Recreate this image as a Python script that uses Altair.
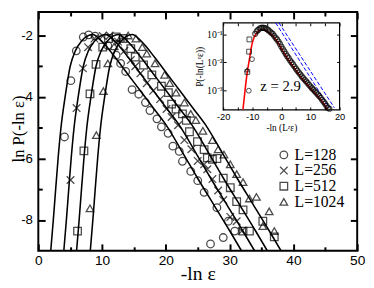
import altair as alt
import pandas as pd

# ---------------- main panel data ----------------
series = ["L=128", "L=256", "L=512", "L=1024"]
shapes = ["circle", "M-1,-1L1,1M-1,1L1,-1", "square", "triangle-up"]

# fitted curves (ln P values shared, -ln eps positions per size)
fit_y = [-9.0, -8.0, -7.0, -6.0, -5.0, -4.0, -3.0, -2.5, -2.2, -2.03, -1.97,
         -2.2, -2.7, -3.25, -3.8, -4.35, -4.9, -5.8, -6.65, -7.5, -8.35, -9.0]
fit_x128 = [1.95, 2.35, 2.72, 3.1, 3.55, 4.2, 5.0, 5.8, 6.7, 7.6, 8.5,
            10.0, 12.0, 14.0, 16.0, 18.0, 20.0, 22.6, 25.0, 27.5, 30.0, 31.85]
fit_x256 = [4.0, 4.4, 4.77, 5.15, 5.6, 6.25, 7.05, 7.85, 8.75, 9.65, 10.55,
            12.05, 14.05, 16.05, 18.05, 20.05, 22.05, 24.65, 27.05, 29.55, 32.05, 33.9]
fit_x512 = [6.0, 6.4, 6.77, 7.15, 7.6, 8.25, 9.05, 9.85, 10.75, 11.65, 12.55,
            14.05, 16.05, 18.05, 20.05, 22.05, 24.05, 26.65, 29.05, 31.55, 34.05, 35.9]
fit_x1024 = [8.15, 8.55, 8.92, 9.3, 9.75, 10.4, 11.2, 12.0, 12.9, 13.8, 14.7,
             16.2, 18.2, 20.2, 22.2, 24.2, 26.2, 28.8, 31.2, 33.7, 36.2, 38.05]

# simulation points
x128 = [4.1, 5.1, 5.95, 7.05, 7.9, 8.9, 10.9, 12.2, 12.9, 13.7, 14.7, 15.75, 16.8, 17.5,
        18.6, 19.3, 20.35, 21.1, 22.1, 22.6, 23.9, 25.0, 26.0, 28.0, 29.8, 30.8, 29.0, 27.0]
y128 = [-5.3, -3.47, -2.5, -2.05, -1.98, -2.02, -2.33, -2.64, -2.91, -3.17, -3.76, -3.91, -4.18, -4.44,
        -4.71, -4.97, -5.18, -5.6, -5.77, -6.09, -6.42, -6.72, -7.1, -7.6, -8.04, -8.36, -8.57, -8.78]

x256 = [5.05, 6.0, 7.0, 7.8, 8.8, 10.1, 11.2, 12.5, 13.5, 14.5, 15.2, 16.0, 17.0, 18.0, 19.1,
        20.1, 20.9, 21.9, 22.9, 24.0, 25.0, 26.0, 26.5, 27.3, 28.2, 29.0, 30.1, 31.1, 31.9]
y256 = [-6.7, -4.36, -3.07, -2.38, -2.1, -2.02, -2.0, -2.2, -2.5, -2.8, -3.0, -3.23, -3.55, -3.8, -4.07,
        -4.39, -4.65, -4.92, -5.4, -5.7, -6.08, -6.19, -6.35, -6.67, -7.04, -7.35, -7.9, -8.04, -8.36]

x512 = [6.15, 7.15, 8.1, 9.05, 10.1, 11.0, 12.2, 13.3, 14.5, 15.2, 16.5, 17.8, 19.3, 20.4, 20.9, 21.6,
        22.6, 23.2, 23.7, 24.95, 26.0, 26.5, 27.3, 28.0, 29.0, 30.1, 31.1, 32.1, 32.1, 33.1, 35.2, 37.0]
y512 = [-8.36, -5.75, -3.9, -2.94, -2.38, -2.1, -2.05, -2.1, -2.43, -2.7, -2.96, -3.28, -3.65, -3.86, -4.23, -4.39,
        -4.55, -4.76, -5.13, -5.45, -5.71, -5.98, -6.03, -6.0, -6.64, -6.95, -7.4, -7.67, -8.36, -8.36, -8.04, -8.55]

x1024 = [8.1, 9.1, 10.2, 10.9, 11.9, 12.9, 14.1, 15.3, 16.3, 17.0, 18.3, 19.8, 20.6, 21.6, 22.9,
         23.9, 24.7, 25.8, 27.3, 28.2, 29.1, 30.1, 31.1, 32.1, 33.1, 34.2, 35.2, 36.2, 37.0]
y1024 = [-7.62, -5.24, -3.81, -2.91, -2.35, -2.08, -2.0, -2.1, -2.38, -2.59, -2.91, -3.28, -3.55, -3.86, -4.18,
         -4.55, -4.75, -5.1, -5.4, -5.7, -5.87, -6.19, -6.51, -6.77, -7.3, -7.25, -8.2, -7.72, -8.36]

major_x = [0, 10, 20, 30, 40, 50]
minor_x = [5, 15, 25, 35, 45]
major_y = [-8, -6, -4, -2]
minor_y = [-7, -5, -3]

# ---------------- inset data ----------------
inset_x_domain = [-20, 20]
inset_y_domain = [2.1e-4, 0.25]
inset_ticks_x = [-20, -15, -10, -5, 0, 5, 10, 15, 20]
inset_ticks_y = [0.001, 0.01, 0.1]

red_x = [-13.2, -12.5, -11.8, -11.0, -10.3, -9.5, -8.5, -7.5, -6.5, -5.5, -4.5, -3.0,
         -1.0, 0.5, 2.0, 4.0, 5.5, 7.3, 9.0, 10.7, 12.5, 14.1, 15.8]
red_y = [2.2e-4, 1e-3, 0.004, 0.0126, 0.0355, 0.0708, 0.107, 0.135, 0.145, 0.138, 0.117, 0.087,
         0.047, 0.025, 0.0141, 0.0072, 0.0044, 0.0025, 0.0016, 0.001, 6.3e-4, 4e-4, 2.2e-4]

band_x = [-9.0, -8.5, -8.0, -7.5, -7.0, -6.5, -6.0, -5.5, -5.0, -4.5, -4.0, -3.5, -3.0, -2.5, -2.0,
          -1.5, -1.0, -0.5, 0.0, 0.5, 1.0, 1.5, 2.0, 2.5, 3.0, 3.5, 4.0, 4.5, 5.0, 5.5, 6.0, 6.5,
          7.0, 7.5, 8.0, 8.5, 9.0, 9.5, 10.0, 10.5, 11.0, 11.5, 12.0, 12.5, 13.0, 13.5, 14.0, 14.5,
          15.0, 15.5, 16.0, 16.5]
band_y = [0.102, 0.126, 0.141, 0.158, 0.166, 0.170, 0.166, 0.162, 0.151, 0.138, 0.126, 0.112, 0.102,
          0.087, 0.074, 0.065, 0.055, 0.045, 0.036, 0.0295, 0.0245, 0.020, 0.0166, 0.0141, 0.0117,
          0.010, 0.0085, 0.0072, 0.0060, 0.0051, 0.0044, 0.0038, 0.0032, 0.0028, 0.00245, 0.00214,
          0.00186, 0.00162, 0.00141, 0.00123, 0.0011, 0.00095, 0.00085, 0.00074, 0.00065, 0.00056,
          0.00048, 0.00041, 0.00035, 0.00029, 0.00025, 0.00023]

sq_x = [-11.0, -11.1, -11.7]
sq_y = [0.065, 0.024, 0.0046]
tri_x = [-11.8]
tri_y = [0.0055]
circ_x = [-10.1, -11.2]
circ_y = [0.013, 0.001]

blue_id = ["a", "a", "b", "b"]
blue_x = [-1.95, 16.5, -0.84, 18.2]
blue_y = [0.25, 2.5e-4, 0.25, 2.5e-4]

z_text = ["z = 2.9"]
z_x = [-0.3]
z_y = [0.0014]

# ---------------- tables ----------------
fit_rows = []
for s, xs in zip(series, [fit_x128, fit_x256, fit_x512, fit_x1024]):
    for i, (a, b) in enumerate(zip(xs, fit_y)):
        fit_rows.append({"series": s, "x": a, "y": b, "i": i})
fit_df = pd.DataFrame(fit_rows)

pt_rows = []
for s, xs, ys in zip(series, [x128, x256, x512, x1024], [y128, y256, y512, y1024]):
    for a, b in zip(xs, ys):
        pt_rows.append({"series": s, "x": a, "y": b})
pt_df = pd.DataFrame(pt_rows)

red_df = pd.DataFrame({"x": red_x, "y": red_y})
band_df = pd.DataFrame({"x": band_x, "y": band_y})
sq_df = pd.DataFrame({"x": sq_x, "y": sq_y})
tri_df = pd.DataFrame({"x": tri_x, "y": tri_y})
circ_df = pd.DataFrame({"x": circ_x, "y": circ_y})
blue_df = pd.DataFrame({"id": blue_id, "x": blue_x, "y": blue_y})
z_df = pd.DataFrame({"t": z_text, "x": z_x, "y": z_y})
frame_df = pd.DataFrame({"x0": [inset_x_domain[0]], "x1": [inset_x_domain[1]],
                         "y0": [inset_y_domain[0]], "y1": [inset_y_domain[1]]})


def ax(**kw):
    base = dict(grid=False, domain=False, tickColor="black", tickWidth=2,
                labelColor="black", titleColor="black", labelFlush=False,
                labelOverlap=False)
    base.update(kw)
    return alt.Axis(**base)


X_MAIN = alt.Scale(domain=[0, 50], nice=False, zero=False)
Y_MAIN = alt.Scale(domain=[-9, -1.24], nice=False, zero=False)
X_IN = alt.Scale(domain=inset_x_domain, range=[189, 308], nice=False, zero=False)
Y_IN = alt.Scale(type="log", domain=inset_y_domain, range=[100, 11], nice=False)

lines = alt.Chart(fit_df).mark_line(color="black", strokeWidth=1.6,
                                    interpolate="monotone", clip=True).encode(
    x=alt.X("x:Q", scale=X_MAIN,
            axis=ax(orient="bottom", values=major_x, tickSize=7, offset=-7,
                    labelFont="Liberation Sans", labelFontSize=14, labelPadding=3,
                    title="-ln ε", titleFont="Liberation Serif", titleFontSize=20,
                    titleFontWeight="normal", titleBaseline="alphabetic", titleY=36)),
    y=alt.Y("y:Q", scale=Y_MAIN,
            axis=ax(orient="left", values=major_y, tickSize=7, offset=-7,
                    labelFont="Liberation Sans", labelFontSize=13.5, labelPadding=6,
                    labelExpr="'-' + abs(datum.value)",
                    title="ln P(-ln ε)", titleFont="Liberation Serif", titleFontSize=17,
                    titleFontWeight="normal", titleBaseline="alphabetic",
                    titleX=-22.5, titleY=119, titleAngle=270)),
    detail="series:N",
    order="i:Q",
)

points = alt.Chart(pt_df).mark_point(filled=False, color="black", size=60,
                                     strokeWidth=1.3, clip=True).encode(
    x=alt.X("x:Q", scale=X_MAIN,
            axis=ax(orient="top", values=major_x, tickSize=7, offset=-7,
                    labels=False, title=None)),
    y=alt.Y("y:Q", scale=Y_MAIN,
            axis=ax(orient="right", values=major_y, tickSize=7, offset=-7,
                    labels=False, title=None)),
    shape=alt.Shape("series:N", scale=alt.Scale(domain=series, range=shapes),
                    legend=alt.Legend(orient="none", legendX=243, legendY=138, title=None,
                                      labelFont="Liberation Serif", labelFontSize=16,
                                      labelColor="black", symbolSize=60,
                                      symbolStrokeColor="black", symbolStrokeWidth=1.3,
                                      symbolFillColor="transparent", rowPadding=-3,
                                      labelOffset=3)),
)

minor_a = alt.Chart(fit_df).mark_point(opacity=0).encode(
    x=alt.X("x:Q", scale=X_MAIN,
            axis=ax(orient="bottom", values=minor_x, tickSize=4, offset=-4,
                    labels=False, title=None)),
    y=alt.Y("y:Q", scale=Y_MAIN,
            axis=ax(orient="left", values=minor_y, tickSize=4, offset=-4,
                    labels=False, title=None)),
)
minor_b = alt.Chart(fit_df).mark_point(opacity=0).encode(
    x=alt.X("x:Q", scale=X_MAIN,
            axis=ax(orient="top", values=minor_x, tickSize=4, offset=-4,
                    labels=False, title=None)),
    y=alt.Y("y:Q", scale=Y_MAIN,
            axis=ax(orient="right", values=minor_y, tickSize=4, offset=-4,
                    labels=False, title=None)),
)

# ---------------- inset ----------------
frame = alt.Chart(frame_df).mark_rect(fillOpacity=0, stroke="black", strokeWidth=1.2).encode(
    x=alt.X("x0:Q", scale=X_IN,
            axis=ax(orient="bottom", offset=-147, values=inset_ticks_x, tickSize=3, tickWidth=1,
                    labelExpr="datum.value % 10 == 0 ? (datum.value < 0 ? '-' + abs(datum.value) : '' + datum.value) : ''",
                    labelFont="Liberation Sans", labelFontSize=9.5, labelPadding=2,
                    title="-ln (Lᶻε)", titleFont="Liberation Serif", titleFontSize=9.5,
                    titleFontWeight="normal", titlePadding=2)),
    x2="x1:Q",
    y=alt.Y("y0:Q", scale=Y_IN,
            axis=ax(orient="left", offset=-192, values=inset_ticks_y, tickSize=3, tickWidth=1,
                    labelExpr="datum.value > 0.05 ? '10⁻¹' : (datum.value > 0.005 ? '10⁻²' : '10⁻³')",
                    labelFont="Liberation Serif", labelFontSize=10, labelPadding=1,
                    title="P(-ln(Lᶻε))", titleFont="Liberation Serif", titleFontSize=9.5,
                    titleFontWeight="normal", titlePadding=2)),
    y2="y1:Q",
)

red = alt.Chart(red_df).mark_line(color="#ff0000", strokeWidth=1.6, interpolate="monotone").encode(
    x=alt.X("x:Q", scale=X_IN,
            axis=ax(orient="top", offset=-14, values=inset_ticks_x, tickSize=3, tickWidth=1,
                    labels=False, title=None)),
    y=alt.Y("y:Q", scale=Y_IN,
            axis=ax(orient="right", offset=-21, values=inset_ticks_y, tickSize=3, tickWidth=1,
                    labels=False, title=None)),
)

band = alt.Chart(band_df).mark_point(shape="circle", filled=False, color="black",
                                     size=26, strokeWidth=1.2).encode(
    x=alt.X("x:Q", scale=X_IN, axis=None),
    y=alt.Y("y:Q", scale=Y_IN, axis=None),
)
sq = alt.Chart(sq_df).mark_point(shape="square", filled=False, color="black",
                                 size=24, strokeWidth=1).encode(
    x=alt.X("x:Q", scale=X_IN, axis=None),
    y=alt.Y("y:Q", scale=Y_IN, axis=None),
)
tri = alt.Chart(tri_df).mark_point(shape="triangle-up", filled=False, color="black",
                                   size=24, strokeWidth=1).encode(
    x=alt.X("x:Q", scale=X_IN, axis=None),
    y=alt.Y("y:Q", scale=Y_IN, axis=None),
)
circ = alt.Chart(circ_df).mark_point(shape="circle", filled=False, color="black",
                                     size=24, strokeWidth=1).encode(
    x=alt.X("x:Q", scale=X_IN, axis=None),
    y=alt.Y("y:Q", scale=Y_IN, axis=None),
)
blue = alt.Chart(blue_df).mark_line(color="#0000ff", strokeWidth=1, strokeDash=[4, 2]).encode(
    x=alt.X("x:Q", scale=X_IN, axis=None),
    y=alt.Y("y:Q", scale=Y_IN, axis=None),
    detail="id:N",
)
ztext = alt.Chart(z_df).mark_text(font="Liberation Serif", fontSize=15, color="black",
                                  align="center", baseline="middle").encode(
    x=alt.X("x:Q", scale=X_IN, axis=None),
    y=alt.Y("y:Q", scale=Y_IN, axis=None),
    text="t:N",
)

chart = alt.layer(
    minor_a, minor_b, lines, points,
    frame, red, blue, band, sq, tri, circ, ztext,
).resolve_scale(
    x="independent", y="independent"
).properties(
    width=326, height=244,
    autosize=alt.AutoSizeParams(type="none"),
    padding={"left": 31, "top": 1, "right": 9, "bottom": 40},
    background="white",
).configure_view(
    stroke="black", strokeWidth=2
)

chart.save("out.html", embed_options={"renderer": "svg", "actions": False})
